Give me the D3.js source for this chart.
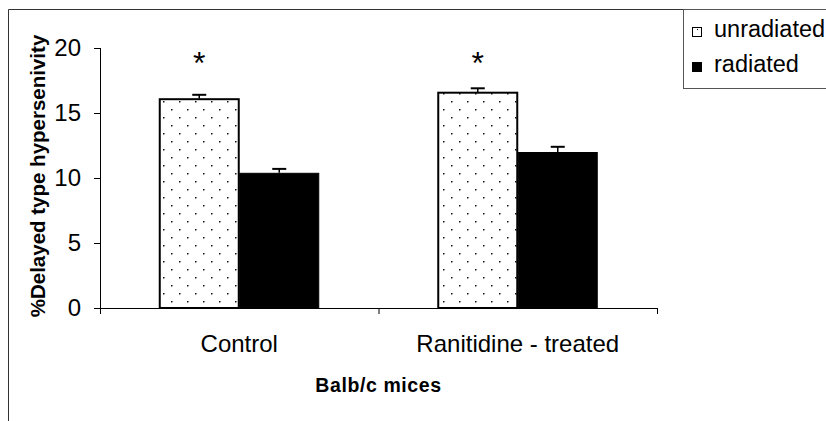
<!DOCTYPE html>
<html><head><meta charset="utf-8">
<script src="https://cdn.jsdelivr.net/npm/d3@7"></script>
<style>body{margin:0;background:#fff}svg{display:block;font-family:"Liberation Sans",Arial,sans-serif}</style>
</head><body><svg id="c" width="826" height="421"></svg>
<script>
const categories = ["Control", "Ranitidine - treated"];
const seriesNames = ["unradiated", "radiated"];
const unradiated = [16.1, 16.6];
const radiated = [10.4, 12.0];
const unradiatedErr = [0.3, 0.3];
const radiatedErr = [0.3, 0.4];
const significant = [true, true];
const yTicks = [0, 5, 10, 15, 20];

const svg = d3.select("#c");
const W = 826, H = 421;
const m = {l: 100, r: 169, t: 48, b: 113};
const x0 = d3.scaleBand().domain(categories).range([m.l, W - m.r]).paddingInner(0).paddingOuter(0);
const x1 = d3.scaleBand().domain(seriesNames).range([0, 160]);
const y = d3.scaleLinear().domain([0, 20]).range([H - m.b, m.t]);

// dotted pattern
const defs = svg.append("defs");
const pat = defs.append("pattern").attr("id", "dots").attr("patternUnits", "userSpaceOnUse")
  .attr("width", 16).attr("height", 16).attr("x", 0).attr("y", 0);
pat.append("rect").attr("width", 16).attr("height", 16).attr("fill", "#fff");
pat.append("rect").attr("x", 3).attr("y", 5).attr("width", 1.5).attr("height", 1.5).attr("fill", "#111");
pat.append("rect").attr("x", 11).attr("y", 13).attr("width", 1.5).attr("height", 1.5).attr("fill", "#111");

// outer frame
svg.append("path").attr("d", `M8.5,${H} V9.5 H${W}`).attr("fill", "none").attr("stroke", "#333").attr("stroke-width", 1);

const rows = categories.map((c, i) => ({c, vals: [
  {s: "unradiated", v: unradiated[i], e: unradiatedErr[i]},
  {s: "radiated", v: radiated[i], e: radiatedErr[i]}]}));

const gap = (x0.bandwidth() - 160) / 2;
const g = svg.append("g");
rows.forEach((r, i) => {
  const gx = x0(r.c) + gap;
  r.vals.forEach(d => {
    const bx = gx + x1(d.s);
    g.append("rect").attr("x", bx + 0.5).attr("y", y(d.v) + 0.5)
      .attr("width", x1.bandwidth() - 1).attr("height", y(0) - y(d.v) - 0.5)
      .attr("fill", d.s === "unradiated" ? "url(#dots)" : "#000")
      .attr("stroke", "#000").attr("stroke-width", d.s === "unradiated" ? 2 : 1);
    const cx = bx + x1.bandwidth() / 2;
    g.append("line").attr("x1", cx).attr("x2", cx).attr("y1", y(d.v)).attr("y2", y(d.v + d.e)).attr("stroke", "#000").attr("stroke-width", 1.5);
    g.append("line").attr("x1", cx - 7).attr("x2", cx + 7).attr("y1", y(d.v + d.e)).attr("y2", y(d.v + d.e)).attr("stroke", "#000").attr("stroke-width", 2);
  });
  if (significant[i]) {
    svg.append("text").attr("x", gx + x1("unradiated") + x1.bandwidth() / 2).attr("y", y(20) + 26)
      .attr("text-anchor", "middle").attr("font-size", 32).text("*");
  }
});

// y axis
const ya = svg.append("g").attr("transform", `translate(${m.l},0)`)
  .call(d3.axisLeft(y).tickValues(yTicks).tickSize(6).tickPadding(13).tickSizeOuter(0));
ya.select(".domain").attr("stroke", "#000").attr("d", `M0.5,${y(20)}V${y(0)}`);
ya.selectAll(".tick line").attr("stroke", "#000");
ya.selectAll("text").attr("font-size", 24).attr("font-family", "Liberation Sans, Arial").attr("fill", "#000");

// x axis
const xa = svg.append("g").attr("transform", `translate(0,${y(0)})`);
xa.append("line").attr("x1", m.l).attr("x2", W - m.r).attr("y1", 0.5).attr("y2", 0.5).attr("stroke", "#000");
const bounds = [m.l].concat(categories.map(c => x0(c) + x0.bandwidth()));
bounds.forEach(b => xa.append("line").attr("x1", b + 0.5).attr("x2", b + 0.5).attr("y1", 0).attr("y2", 6).attr("stroke", "#000"));
categories.forEach(c => xa.append("text").attr("x", x0(c) + x0.bandwidth() / 2).attr("y", 44)
  .attr("text-anchor", "middle").attr("font-size", 24).text(c));

// axis titles
svg.append("text").attr("x", (m.l + W - m.r) / 2).attr("y", 392).attr("text-anchor", "middle")
  .attr("font-size", 19.5).attr("font-weight", "bold").attr("letter-spacing", 0.6).text("Balb/c mices");
svg.append("text").attr("transform", `translate(45,${(y(0) + y(20)) / 2 - 2}) rotate(-90)`)
  .attr("text-anchor", "middle").attr("font-size", 20.5).attr("font-weight", "bold").text("%Delayed type hypersenivity");

// legend
const lg = svg.append("g");
lg.append("rect").attr("x", 683.5).attr("y", 9.5).attr("width", 150).attr("height", 79).attr("fill", "#fff").attr("stroke", "#555");
seriesNames.forEach((s, i) => {
  const ly = 37 + i * 35;
  lg.append("rect").attr("x", 692.5).attr("y", ly - 9.5).attr("width", 9).attr("height", 9)
    .attr("fill", s === "unradiated" ? "#fff" : "#000").attr("stroke", "#000");
  if (s === "unradiated") lg.append("rect").attr("x", 697).attr("y", ly - 8).attr("width", 1).attr("height", 1).attr("fill", "#000");
  lg.append("text").attr("x", 714).attr("y", ly).attr("font-size", 23.5).text(s);
});
</script></body></html>
